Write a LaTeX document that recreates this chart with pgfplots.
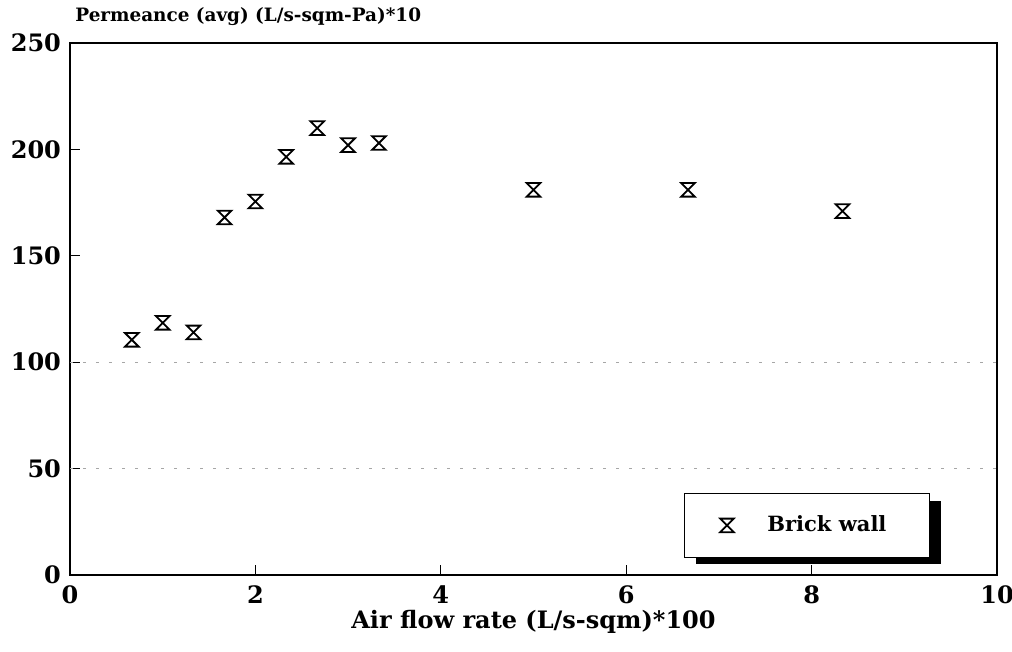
\documentclass[border=0pt]{standalone}
\usepackage{pgfplots}
\pgfplotsset{compat=1.18}
\usepackage{fontspec}
\setmainfont{DejaVu Serif}
\usetikzlibrary{shadows}
\pgfdeclareplotmark{hourglass}{%
  \pgfpathmoveto{\pgfqpoint{-\pgfplotmarksize}{\pgfplotmarksize}}%
  \pgfpathlineto{\pgfqpoint{\pgfplotmarksize}{\pgfplotmarksize}}%
  \pgfpathlineto{\pgfqpoint{-\pgfplotmarksize}{-\pgfplotmarksize}}%
  \pgfpathlineto{\pgfqpoint{\pgfplotmarksize}{-\pgfplotmarksize}}%
  \pgfpathclose\pgfusepathqstroke}
\begin{document}
\begin{tikzpicture}
\useasboundingbox (0,0) rectangle (506pt,326pt);
\begin{axis}[
  at={(35pt,38.5pt)}, anchor=south west,
  scale only axis, width=463.5pt, height=266pt,
  xmin=0, xmax=10, ymin=0, ymax=250,
  clip mode=individual,
  xtick={0,2,...,10}, ytick={0,50,...,250},
  tick pos=left, tick align=inside, major tick length=5pt,
  axis line style={black, line width=0.6pt},
  tick style={black, line width=0.6pt},
  /pgf/number format/assume math mode=true,
  ticklabel style={font=\fontsize{12}{14}\selectfont\bfseries},
  xticklabel style={yshift=-2pt},
  yticklabel style={xshift=-1pt},
  extra y ticks={50,100},
  extra y tick labels={},
  extra y tick style={grid=major, major tick length=0pt, grid style={gray!70, line width=0.5pt, dash pattern=on 1.5pt off 5pt}},
  xlabel={\fontsize{12}{14}\selectfont\bfseries Air flow rate (L/s-sqm)*100},
  xlabel style={yshift=4pt},
  legend style={at={(axis cs:6.62,38.5)}, anchor=north west,
    draw=black, line width=0.5pt, fill=white,
    inner xsep=18pt, inner ysep=9.2pt,
    /tikz/column sep=14.8pt,
    drop shadow={shadow xshift=6pt, shadow yshift=-3.5pt, fill=black, opacity=1},
    font=\fontsize{10.5}{12}\selectfont\bfseries},
  legend cell align=left,
]
\addplot[only marks, mark=hourglass, mark size=3.4pt, black, line width=0.9pt]
  coordinates {
  (0.667,110.5) (1.0,118.5) (1.333,114) (1.667,168) (2.0,175.5)
  (2.333,196.5) (2.667,210) (3.0,202) (3.333,203)
  (5.0,181) (6.667,181) (8.333,171)
  };
\addlegendentry{\makebox[61pt][l]{Brick wall}}
\node[anchor=base west, inner sep=0pt, font=\fontsize{9.2}{11}\selectfont\bfseries]
  at ([xshift=2.5pt, yshift=10.5pt]rel axis cs:0,1) {Permeance (avg) (L/s-sqm-Pa)*10};
\end{axis}
\end{tikzpicture}
\end{document}
